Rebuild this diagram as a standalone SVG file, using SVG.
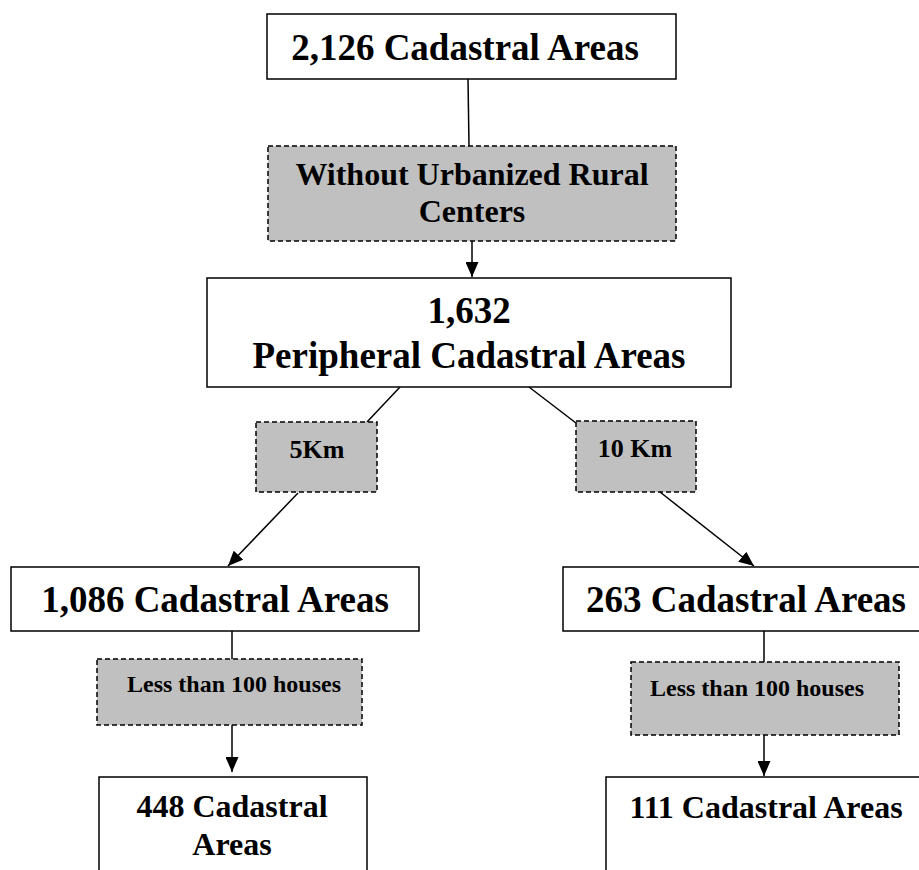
<svg xmlns="http://www.w3.org/2000/svg" width="919" height="870" viewBox="0 0 919 870">
<style>
.box{fill:#ffffff;stroke:#000;stroke-width:1.5}
.cond{fill:#c0c0c0;stroke:#000;stroke-width:1.5;stroke-dasharray:5,3}
.t{font-family:"Liberation Serif","Times New Roman",serif;font-weight:bold;fill:#000;text-anchor:middle}
.big{font-size:37px}
.mid{font-size:32px}
.lab{font-size:26px}
.sm{font-size:24px}
.c{stroke:#000;stroke-width:1.5;fill:none}
</style>
<defs>
<marker id="ah" viewBox="0 0 10 10" refX="10" refY="5" markerWidth="15" markerHeight="13" markerUnits="userSpaceOnUse" orient="auto" preserveAspectRatio="none">
<path d="M0,0 L10,5 L0,10 z" fill="#000"/>
</marker>
</defs>
<rect width="919" height="870" fill="#fff"/>
<g id="connectors">
<line class="c" x1="468" y1="79" x2="469" y2="146"/>
<line class="c" x1="472" y1="241" x2="472" y2="277" marker-end="url(#ah)"/>
<line class="c" x1="400" y1="387" x2="367" y2="422"/>
<line class="c" x1="529" y1="387" x2="576" y2="423"/>
<line class="c" x1="298" y1="493" x2="228" y2="566" marker-end="url(#ah)"/>
<line class="c" x1="660" y1="492" x2="754" y2="566" marker-end="url(#ah)"/>
<line class="c" x1="232" y1="631" x2="232" y2="659"/>
<line class="c" x1="232" y1="725" x2="232" y2="772" marker-end="url(#ah)"/>
<line class="c" x1="764" y1="631" x2="764" y2="662"/>
<line class="c" x1="764" y1="735" x2="764" y2="776" marker-end="url(#ah)"/>
</g>
<g id="n2126">
<rect class="box" x="267" y="14" width="409" height="65"/>
<text class="t big" x="465" y="60">2,126 Cadastral Areas</text>
</g>
<g id="without">
<rect class="cond" x="268" y="146" width="408" height="95"/>
<text class="t mid" x="472" y="185">Without Urbanized Rural</text>
<text class="t mid" x="472" y="222">Centers</text>
</g>
<g id="n1632">
<rect class="box" x="207" y="278" width="524" height="109"/>
<text class="t big" x="469" y="323">1,632</text>
<text class="t big" x="469" y="368">Peripheral Cadastral Areas</text>
</g>
<g id="km5">
<rect class="cond" x="256" y="422" width="121" height="70"/>
<text class="t lab" x="317" y="458">5Km</text>
</g>
<g id="km10">
<rect class="cond" x="576" y="421" width="120" height="71"/>
<text class="t lab" x="635" y="457">10 Km</text>
</g>
<g id="n1086">
<rect class="box" x="11" y="567" width="408" height="64"/>
<text class="t big" x="215" y="612">1,086 Cadastral Areas</text>
</g>
<g id="n263">
<rect class="box" x="563" y="567" width="370" height="64"/>
<text class="t big" x="746" y="612">263 Cadastral Areas</text>
</g>
<g id="less1">
<rect class="cond" x="97" y="659" width="265" height="66"/>
<text class="t sm" x="234" y="692">Less than 100 houses</text>
</g>
<g id="less2">
<rect class="cond" x="631" y="662" width="268" height="73"/>
<text class="t sm" x="757" y="696">Less than 100 houses</text>
</g>
<g id="n448">
<rect class="box" x="99" y="777" width="268" height="110"/>
<text class="t mid" x="232" y="817">448 Cadastral</text>
<text class="t mid" x="232" y="855">Areas</text>
</g>
<g id="n111">
<rect class="box" x="606" y="777" width="330" height="110"/>
<text class="t mid" x="766" y="818">111 Cadastral Areas</text>
</g>
</svg>
